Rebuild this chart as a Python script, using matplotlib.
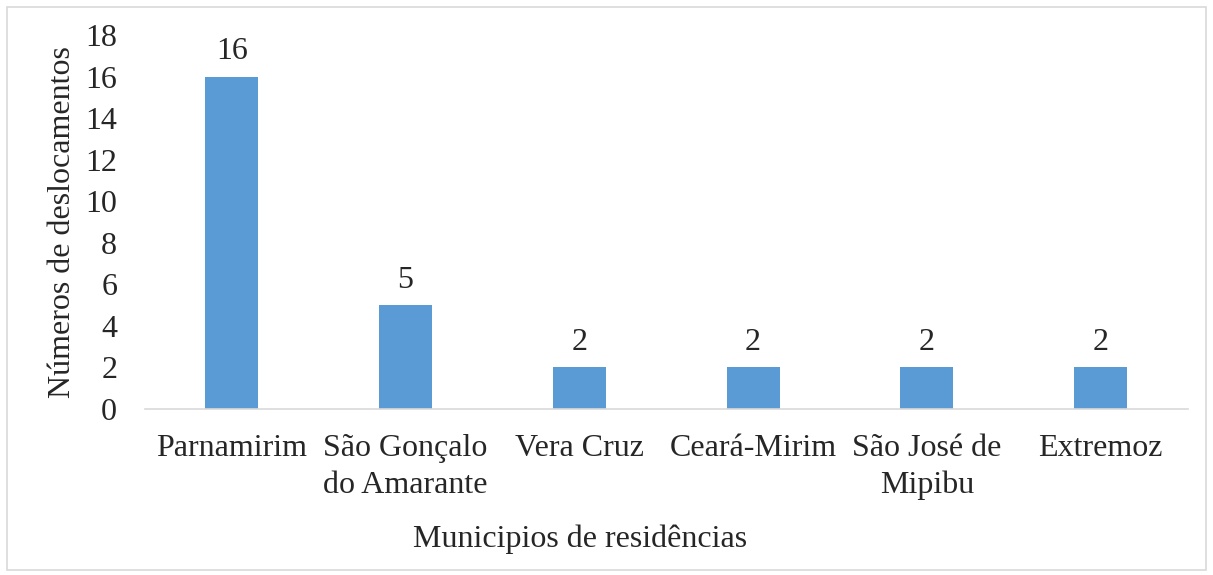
import matplotlib.pyplot as plt
from matplotlib.patches import Rectangle

plt.rcParams['font.family'] = ['Liberation Serif', 'DejaVu Serif']

municipios = ['Parnamirim', 'São Gonçalo\ndo Amarante', 'Vera Cruz',
              'Ceará-Mirim', 'São José de\nMipibu', 'Extremoz']
deslocamentos = [16, 5, 2, 2, 2, 2]
y_ticks = [0, 2, 4, 6, 8, 10, 12, 14, 16, 18]

txt = '#262626'
fs = 23

fig = plt.figure(figsize=(12.13, 5.75), dpi=100)
ax = fig.add_axes([0.1195, 0.2887, 0.8595, 0.6505])

x = range(len(municipios))
ax.bar(x, deslocamentos, width=0.305, color='#5B9BD5', zorder=2)

for xi, v in zip(x, deslocamentos):
    ax.text(xi, v + 0.5, str(v), ha='center', va='bottom', fontsize=fs, color=txt)

ax.set_xlim(-0.5, len(municipios) - 0.5)
ax.set_ylim(0, 18)
ax.set_yticks(y_ticks)
ax.set_xticks(list(x))
ax.set_xticklabels(municipios, fontsize=fs, color=txt, linespacing=1.35)
ax.tick_params(axis='y', length=0, pad=20, labelsize=fs, labelcolor=txt)
ax.tick_params(axis='x', length=0, pad=18)

for s in ['top', 'right', 'left']:
    ax.spines[s].set_visible(False)
ax.spines['bottom'].set_color('#D9D9D9')
ax.spines['bottom'].set_linewidth(1.2)

ax.set_ylabel('Números de deslocamentos', fontsize=fs, color=txt, labelpad=6)
fig.text(0.478, 0.062, 'Municipios de residências', ha='center', va='center',
         fontsize=fs, color=txt)

# light frame around the whole chart area
fig.patches.append(Rectangle((0.006, 0.008), 0.988, 0.98, transform=fig.transFigure,
                             fill=False, edgecolor='#D9D9D9', linewidth=1.2))

fig.savefig('out.png', dpi=100)
